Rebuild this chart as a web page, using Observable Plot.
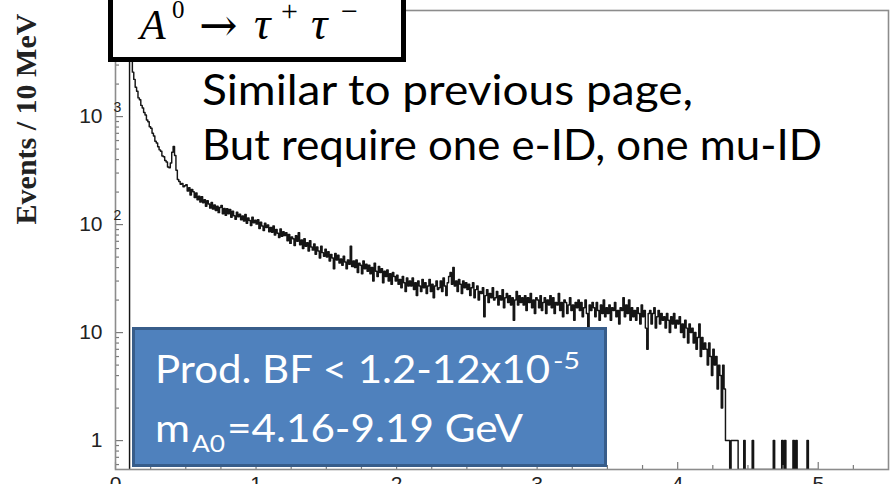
<!DOCTYPE html>
<html>
<head>
<meta charset="utf-8">
<script src="https://cdn.jsdelivr.net/npm/d3@7"></script>
<script src="https://cdn.jsdelivr.net/npm/@observablehq/plot@0.6"></script>
<style>
  html, body { margin: 0; padding: 0; background: #fff; }
  #chart { width: 894px; height: 484px; overflow: hidden; }
</style>
</head>
<body>
<div id="chart"></div>
<script>
// Histogram: events per 10 MeV bin, first bin at 0.10
const binStart = 0.10;
const binWidth = 0.01;
const counts = [
  5400, 3600, 2580, 2210, 1870, 1720, 1490, 1430, 1270, 1200,
  1090, 1035, 930, 895, 805, 780, 700, 662, 590, 570,
  525, 492, 478, 432, 425, 392, 380, 342, 336, 372,
  468, 528, 436, 318, 262, 251, 236, 240, 224, 229,
  234, 205, 219, 188, 211, 201, 178, 196, 170, 183,
  162, 181, 159, 170, 148, 166, 155, 142, 160, 139,
  152, 135, 148, 129, 144, 150, 126, 141, 122, 140,
  126, 138, 117, 133, 121, 112, 130, 118, 125, 111,
  120, 108, 124, 103, 115, 109, 98, 117, 104, 110,
  101, 111, 92, 105, 97, 88, 103, 94, 99, 86,
  94, 85, 97, 80, 90, 83, 76, 91, 78, 86,
  79, 84, 71, 81, 67, 77, 74, 64, 79, 70,
  84, 65, 72, 60, 74, 63, 68, 57, 71, 62,
  58, 66, 53, 62, 57, 49, 63, 55, 51, 59,
  50, 56, 46, 53, 49, 39, 54, 47, 52, 44,
  48, 42, 51, 45, 39, 47, 43, 63, 41, 46,
  40, 47, 36, 44, 42, 35, 46, 39, 43, 37,
  42, 35, 40, 30, 44, 37, 33, 41, 36, 39,
  29, 37, 33, 38, 30, 35, 28, 36, 33, 30,
  34, 28, 31, 26, 33, 29, 24, 32, 27, 30,
  27, 32, 25, 29, 22, 30, 27, 24, 31, 26,
  29, 23, 27, 31, 24, 28, 21, 27, 30, 25,
  26, 30, 24, 32, 27, 22, 29, 33, 36, 28,
  40, 27, 30, 24, 31, 28, 23, 30, 26, 29,
  25, 28, 22, 26, 29, 21, 25, 27, 20, 24,
  23, 26, 14, 22, 25, 19, 23, 21, 26, 20,
  21, 24, 18, 22, 20, 25, 17, 21, 23, 19,
  22, 18, 21, 13, 20, 24, 18, 22, 19, 21,
  18, 22, 16, 21, 19, 23, 17, 20, 15, 21,
  20, 17, 22, 16, 19, 21, 15, 20, 18, 22,
  17, 21, 15, 19, 18, 23, 16, 19, 14, 20,
  19, 15, 18, 21, 16, 18, 13, 19, 17, 20,
  16, 19, 14, 17, 20, 15, 11, 18, 16, 19,
  17, 14, 19, 16, 13, 18, 15, 20, 14, 17,
  15, 18, 13, 17, 16, 19, 14, 16, 12, 17,
  16, 21, 14, 18, 15, 20, 13, 17, 14, 16,
  13, 17, 15, 12, 18, 14, 16, 11, 7, 15,
  16, 12, 15, 17, 11, 14, 16, 12, 15, 13,
  14, 11, 15, 13, 10, 14, 12, 15, 11, 13,
  12, 14, 10, 12, 9, 13, 11, 8, 12, 10,
  11, 8, 10, 7, 9, 12, 6, 9, 7, 8,
  7, 5, 8, 6, 4, 7, 5, 6, 3, 5,
  4, 2, 5, 3, 1, 1, 1, 0, 1, 1,
  1, 1, 1, 0, 0, 0, 0, 1, 0, 0,
  0, 0, 0, 1, 0, 0, 0, 0, 0, 0,
  0, 0, 0, 0, 0, 0, 0, 0, 1, 0,
  0, 0, 0, 0, 1, 0, 1, 0, 0, 0,
  0, 0, 1, 0, 1, 0, 0, 0, 0, 0,
  0, 0, 1, 0, 0, 0, 0, 0, 0, 0
];

// Axis ticks and labels
const xMajor = [0, 1, 2, 3, 4, 5];
const xMinor = [0.25, 0.5, 0.75, 1.25, 1.5, 1.75, 2.25, 2.5, 2.75, 3.25, 3.5, 3.75, 4.25, 4.5, 4.75, 5.25];
const yMajor = [1, 10, 100, 1000];
const yMinor = [0.6, 0.7, 0.8, 0.9, 2, 3, 4, 5, 6, 7, 8, 9, 20, 30, 40, 50, 60, 70, 80, 90,
  200, 300, 400, 500, 600, 700, 800, 900, 2000, 3000, 4000, 5000, 6000, 7000, 8000, 9000];
const yTickBase = ["1", "10", "10", "10"];
const yTickExp = ["", "", "2", "3"];

const yMin = 0.54, yMax = 9600;

// Step outline: rises from the floor at the first edge, empty bins sit on the floor
const points = [{x: binStart, y: yMin}];
counts.forEach((c, i) => points.push({x: binStart + binWidth * i, y: c > 0 ? c : yMin}));
points.push({x: binStart + binWidth * counts.length, y: yMin});

const W = 894, H = 484, mL = 115, mR = 6, mT = 10, mB = 15;
const innerW = W - mL - mR, innerH = H - mT - mB;

const svg = Plot.plot({
  width: W, height: H,
  marginLeft: mL, marginRight: mR, marginTop: mT, marginBottom: mB,
  style: {fontFamily: "Liberation Sans, Arial, sans-serif", background: "#fff", overflow: "hidden"},
  x: {domain: [0, 5.5]},
  y: {type: "log", domain: [yMin, yMax], axis: null},
  marks: [
    Plot.line(points, {x: "x", y: "y", curve: "step-after", stroke: "#151515", strokeWidth: 1.45, clip: true}),
    Plot.ruleX(xMajor, {stroke: "#7a7a7a", strokeWidth: 1.2, insetTop: innerH - 7}),
    Plot.ruleX(xMinor, {stroke: "#7a7a7a", strokeWidth: 1.2, insetTop: innerH - 4}),
    Plot.ruleY(yMajor, {stroke: "#7a7a7a", strokeWidth: 1.2, insetRight: innerW - 8}),
    Plot.ruleY(yMinor, {stroke: "#7a7a7a", strokeWidth: 1.2, insetRight: innerW - 4}),
    Plot.frame({stroke: "#8c8c8c", strokeWidth: 1.6}),
    Plot.axisX(xMajor, {tickSize: 0, tickPadding: 7, fontSize: 21, label: null, fill: "#222", tickFormat: d => String(d)}),
    Plot.text(yMajor, {y: d => d, text: yTickBase, frameAnchor: "left", dx: -13, textAnchor: "end", fontSize: 21, fill: "#222"}),
    Plot.text(yMajor, {y: d => d, text: yTickExp, frameAnchor: "left", dx: -2, dy: -9, textAnchor: "start", fontSize: 14, fill: "#222"})
  ]
});
document.getElementById("chart").appendChild(svg);

// Annotations drawn over the plot
const g = d3.select(svg).append("g").attr("text-anchor", "start");

g.append("text")
  .attr("transform", "translate(36,119) rotate(-90)")
  .attr("text-anchor", "middle")
  .attr("font-family", "Liberation Serif, serif")
  .attr("font-weight", "bold")
  .attr("font-size", 30)
  .attr("fill", "#222")
  .text("Events / 10 MeV");

// Process box
g.append("rect")
  .attr("x", 110.5).attr("y", -10).attr("width", 293).attr("height", 69.5)
  .attr("fill", "#fff").attr("stroke", "#000").attr("stroke-width", 5);

const mathFont = "Liberation Serif, DejaVu Serif, serif";
function piece(txt, x, y, size, italic, family) {
  return g.append("text")
    .attr("x", x).attr("y", y)
    .attr("font-family", family || mathFont)
    .attr("font-style", italic ? "italic" : "normal")
    .attr("font-size", size)
    .attr("fill", "#000")
    .text(txt);
}
piece("A", 140, 39, 42, true);
piece("0", 172, 18, 25, false);
piece("\u2192", 199, 41, 46, false, "DejaVu Serif, serif");
piece("\u03C4", 254, 39, 46, true);
piece("+", 281, 21, 30, false);
piece("\u03C4", 311, 39, 46, true);
piece("\u2212", 341, 21, 30, false);

// Selection notes
const noteFont = "Lato, Open Sans, sans-serif";
function note(txt, x, y, size, len, color) {
  return g.append("text")
    .attr("x", x).attr("y", y)
    .attr("font-family", noteFont)
    .attr("font-size", size)
    .attr("fill", color)
    .attr("textLength", len)
    .attr("lengthAdjust", "spacingAndGlyphs")
    .text(txt);
}
note("Similar to previous page,", 202, 105, 42, 491, "#000");
note("But require one e-ID, one mu-ID", 202, 160, 42, 620, "#000");

// Result box
g.append("rect")
  .attr("x", 133.5).attr("y", 328.5).attr("width", 472).attr("height", 137)
  .attr("fill", "#4F81BD").attr("stroke", "#385D8A").attr("stroke-width", 3);

note("Prod. BF < 1.2-12x10", 155, 383, 39, 395, "#fff");
note("-5", 553, 369, 24, 27, "#fff");
note("m", 155, 442, 39, 35, "#fff");
note("A0", 192, 452, 24, 33, "#fff");
note("=4.16-9.19 GeV", 227, 442, 39, 296, "#fff");
</script>
</body>
</html>
